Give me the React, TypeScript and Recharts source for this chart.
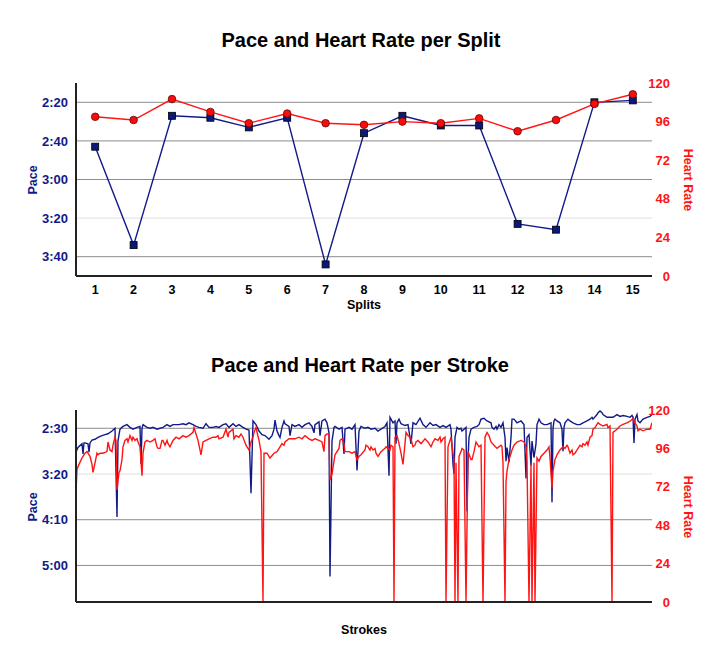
import React from 'react';
import { ComposedChart, Line, XAxis, YAxis, ReferenceLine } from 'recharts';

// per split
const splits = [1, 2, 3, 4, 5, 6, 7, 8, 9, 10, 11, 12, 13, 14, 15];
const splitPace = [163, 214, 147, 148, 153, 148, 224, 156, 147, 152, 152, 203, 206, 140, 139]; // seconds / 500m
const splitHr = [99, 97, 110, 102, 95, 101, 95, 94, 96, 95, 98, 90, 97, 107, 113];

// per stroke: [stroke, value]
const strokePace: [number, number][] = [
  [0, 176], [2, 171], [6, 167], [7, 178], [8, 166], [9, 166], [12, 167], [13, 176], [14, 166], [16, 163], [19, 162], [22, 160],
  [26, 158], [29, 157], [32, 156], [36, 153], [39, 150], [41, 247], [42, 164], [43, 157], [44, 151], [47, 148], [51, 146], [54, 149],
  [57, 151], [61, 149], [64, 148], [65, 189], [66, 150], [67, 146], [71, 149], [74, 150], [77, 149], [81, 151], [84, 150], [87, 149],
  [91, 146], [94, 148], [97, 146], [100, 146], [103, 146], [107, 145], [110, 146], [113, 144], [117, 146], [120, 148], [123, 149],
  [127, 150], [130, 145], [133, 149], [137, 149], [140, 148], [143, 149], [147, 146], [150, 145], [153, 149], [157, 145], [160, 148],
  [163, 146], [167, 149], [170, 151], [173, 152], [175, 221], [177, 142], [180, 146], [183, 153], [186, 157], [189, 158], [193, 162],
  [196, 158], [198, 151], [199, 141], [201, 153], [203, 158], [204, 160], [206, 149], [208, 142], [209, 145], [213, 148], [214, 158],
  [216, 146], [219, 148], [223, 146], [226, 149], [229, 146], [233, 144], [236, 148], [238, 155], [239, 146], [243, 143], [244, 158],
  [246, 142], [249, 140], [251, 144], [253, 155], [254, 312], [256, 164], [258, 149], [259, 148], [263, 151], [266, 149], [268, 178],
  [269, 151], [273, 149], [276, 151], [279, 146], [281, 196], [283, 153], [285, 148], [289, 150], [292, 149], [295, 151], [299, 150],
  [302, 153], [305, 151], [309, 148], [311, 144], [313, 202], [314, 138], [315, 140], [317, 144], [319, 142], [320, 167], [321, 144],
  [323, 140], [325, 145], [329, 147], [332, 146], [335, 167], [337, 144], [340, 146], [344, 139], [347, 146], [350, 149], [354, 144],
  [357, 147], [360, 146], [364, 149], [367, 147], [370, 149], [374, 146], [375, 151], [377, 189], [378, 200], [379, 160], [381, 149],
  [383, 151], [385, 150], [386, 153], [388, 151], [390, 149], [391, 241], [392, 185], [393, 160], [395, 151], [398, 149], [401, 148],
  [403, 146], [405, 140], [408, 139], [411, 142], [415, 144], [416, 149], [418, 151], [420, 148], [421, 151], [423, 146], [425, 149],
  [427, 144], [429, 160], [430, 186], [431, 171], [433, 187], [435, 160], [436, 140], [438, 140], [441, 144], [445, 142], [448, 146],
  [450, 205], [451, 160], [453, 157], [455, 191], [456, 164], [458, 182], [460, 167], [461, 146], [463, 140], [465, 144], [468, 146],
  [471, 146], [475, 144], [476, 231], [477, 150], [478, 142], [479, 140], [481, 142], [484, 144], [486, 151], [487, 175], [488, 149],
  [489, 144], [492, 140], [494, 142], [497, 144], [501, 146], [504, 146], [507, 144], [511, 142], [514, 140], [516, 138], [517, 140],
  [521, 135], [522, 133], [524, 131], [526, 133], [527, 135], [531, 138], [534, 138], [537, 138], [541, 135], [544, 137], [547, 136],
  [551, 137], [554, 138], [556, 136], [557, 138], [558, 166], [559, 140], [561, 135], [562, 142], [564, 144], [567, 140], [571, 138],
  [574, 137], [576, 135],
];

const strokeHr: [number, number][] = [
  [0, 69], [1, 83], [3, 86], [6, 90], [7, 91], [9, 93], [11, 94], [12, 93], [14, 91], [16, 86], [17, 81], [19, 87], [21, 93], [22, 92],
  [24, 93], [27, 93], [31, 94], [32, 100], [34, 95], [36, 94], [37, 98], [39, 103], [40, 101], [41, 70], [43, 81], [44, 82], [46, 89],
  [47, 97], [49, 101], [51, 102], [52, 100], [54, 104], [56, 101], [57, 103], [59, 101], [61, 102], [62, 100], [64, 97], [66, 79],
  [67, 93], [69, 100], [71, 101], [74, 100], [77, 101], [79, 102], [81, 97], [82, 96], [84, 96], [86, 101], [87, 101], [89, 98],
  [91, 101], [92, 99], [94, 97], [97, 101], [100, 103], [103, 102], [107, 104], [110, 103], [113, 104], [117, 106], [118, 109],
  [120, 105], [122, 101], [123, 98], [125, 92], [127, 100], [130, 101], [133, 102], [137, 103], [140, 103], [142, 104], [143, 102],
  [147, 103], [150, 108], [152, 103], [153, 106], [157, 108], [158, 102], [160, 104], [163, 103], [165, 105], [167, 103], [170, 98],
  [172, 96], [173, 95], [175, 100], [177, 103], [178, 106], [180, 109], [183, 101], [185, 94], [187, 0], [188, 93], [189, 93], [191, 93],
  [194, 90], [198, 93], [201, 94], [204, 97], [206, 99], [208, 98], [209, 100], [213, 102], [216, 102], [219, 102], [223, 103],
  [226, 102], [229, 104], [233, 102], [236, 101], [239, 102], [243, 101], [246, 100], [248, 94], [249, 104], [251, 105], [253, 105],
  [254, 76], [256, 80], [258, 88], [259, 92], [263, 96], [264, 101], [266, 102], [268, 99], [269, 94], [273, 94], [276, 93], [279, 94],
  [281, 89], [283, 91], [285, 92], [289, 95], [290, 98], [292, 97], [294, 95], [295, 97], [297, 95], [299, 96], [300, 93], [302, 91],
  [304, 93], [305, 94], [309, 96], [310, 97], [312, 96], [314, 95], [315, 98], [317, 97], [318, 0], [319, 103], [321, 104], [323, 99],
  [325, 93], [327, 86], [329, 99], [330, 106], [332, 104], [334, 103], [335, 102], [337, 97], [339, 98], [340, 100], [342, 101],
  [345, 99], [349, 102], [352, 100], [355, 97], [357, 100], [359, 102], [362, 101], [364, 103], [365, 100], [367, 102], [369, 103],
  [370, 0], [372, 97], [374, 101], [375, 103], [377, 93], [378, 89], [379, 0], [380, 87], [382, 0], [383, 91], [385, 94], [386, 96],
  [388, 95], [390, 0], [392, 94], [395, 89], [396, 89], [398, 94], [400, 100], [401, 99], [403, 97], [405, 98], [407, 0], [409, 103],
  [411, 106], [413, 104], [415, 100], [418, 98], [421, 96], [425, 98], [426, 97], [427, 87], [429, 0], [430, 75], [431, 82], [433, 89],
  [435, 93], [436, 95], [438, 98], [441, 100], [445, 101], [448, 100], [450, 97], [451, 88], [453, 0], [455, 86], [456, 0], [458, 87],
  [459, 0], [461, 90], [463, 88], [465, 91], [468, 93], [471, 95], [473, 97], [474, 90], [476, 71], [477, 82], [479, 89], [481, 92],
  [484, 95], [487, 97], [489, 96], [491, 98], [492, 97], [494, 93], [496, 95], [497, 92], [499, 93], [501, 95], [502, 96], [504, 98],
  [506, 97], [507, 99], [509, 98], [511, 100], [512, 98], [514, 103], [516, 104], [517, 108], [519, 109], [521, 111], [522, 112],
  [524, 111], [527, 110], [531, 111], [532, 109], [534, 110], [536, 0], [537, 106], [541, 108], [544, 110], [547, 111], [551, 112],
  [554, 113], [556, 114], [557, 115], [559, 112], [561, 110], [562, 107], [564, 108], [567, 107], [571, 108], [574, 108], [576, 112],
];

const splitPaceTicks = [140, 160, 180, 200, 220];
const strokePaceTicks = [150, 200, 250, 300];
const hrTicks = [0, 24, 48, 72, 96, 120];

const NAVY = '#111a88';
const RED = '#ff1414';
const FONT = '"Liberation Sans", Arial, Helvetica, sans-serif';

const fmtPace = (s: number) => `${Math.floor(s / 60)}:${String(s % 60).padStart(2, '0')}`;

const splitData = splits.map((s, i) => ({ split: s, pace: splitPace[i], hr: splitHr[i] }));
const paceStrokeData = strokePace.map(([stroke, pace]) => ({ stroke, pace }));
const hrStrokeData = strokeHr.map(([stroke, hr]) => ({ stroke, hr }));

const HrTick = ({ x, y, payload }: any) => (
  <text x={x + 10} y={y} dy={4.5} textAnchor="end" fill={RED} fontSize={13} fontWeight="bold" fontFamily={FONT}>
    {payload.value}
  </text>
);

const SquareDot = ({ cx, cy, index }: any) => (
  <rect key={`sq-${index}`} x={cx - 3.5} y={cy - 3.5} width={7} height={7} fill="#0b1a7a" stroke="#000" strokeWidth={0.8} />
);

const CircleDot = ({ cx, cy, index }: any) => (
  <circle key={`ci-${index}`} cx={cx} cy={cy} r={3.8} fill="#ff0a0a" stroke="#5a0a0a" strokeWidth={0.8} />
);

const Txt: React.FC<{ x: number; y: number; rot?: number; color?: string; size?: number; children: React.ReactNode }> = ({ x, y, rot = 0, color = '#000', size = 13, children }) => (
  <div style={{
    position: 'absolute', left: x, top: y, transform: `translate(-50%, -50%) rotate(${rot}deg)`,
    color, fontSize: size, fontWeight: 'bold', fontFamily: FONT, whiteSpace: 'nowrap', lineHeight: 1,
  }}>{children}</div>
);

const gridColor = (v: number, light: number) => (v === light ? '#dedede' : '#8c8c8c');

export default function App() {
  const tickStyle = { fill: NAVY, fontSize: 13, fontWeight: 'bold', fontFamily: FONT };
  return (
    <div style={{ position: 'absolute', left: 0, top: 0, width: 708, height: 648, background: '#fff' }}>
      <div style={{ position: 'absolute', left: 0, top: 0 }}>
        <ComposedChart width={708} height={320} data={splitData} margin={{ top: 83, right: 6, left: 16, bottom: 14 }}>
          <XAxis dataKey="split" scale="band" height={30} axisLine={{ stroke: '#222', strokeWidth: 2 }} tickLine={false} tickMargin={3}
            tick={{ fill: '#000', fontSize: 12.5, fontWeight: 'bold', fontFamily: FONT }} />
          <YAxis yAxisId="pace" orientation="left" width={60} reversed domain={[130, 230]} ticks={splitPaceTicks}
            tickFormatter={fmtPace} axisLine={{ stroke: '#222', strokeWidth: 2 }} tickLine={false} tick={tickStyle} />
          <YAxis yAxisId="hr" orientation="right" width={50} domain={[0, 120]} ticks={hrTicks}
            axisLine={false} tickLine={false} tick={<HrTick />} />
          {splitPaceTicks.map(v => (
            <ReferenceLine key={v} yAxisId="pace" y={v} stroke={gridColor(v, 200)} strokeWidth={1} />
          ))}
          <Line yAxisId="pace" dataKey="pace" stroke={NAVY} strokeWidth={1.4} dot={<SquareDot />} isAnimationActive={false} />
          <Line yAxisId="hr" dataKey="hr" stroke={RED} strokeWidth={1.4} dot={<CircleDot />} isAnimationActive={false} />
        </ComposedChart>
      </div>

      <div style={{ position: 'absolute', left: 0, top: 324 }}>
        <ComposedChart width={708} height={324} margin={{ top: 86, right: 6, left: 16, bottom: 36 }}>
          <XAxis type="number" dataKey="stroke" domain={[0, 576]} height={10} tick={false} tickLine={false}
            axisLine={{ stroke: '#222', strokeWidth: 2 }} allowDataOverflow />
          <YAxis yAxisId="pace" orientation="left" width={60} reversed domain={[130, 340]} ticks={strokePaceTicks}
            tickFormatter={fmtPace} axisLine={{ stroke: '#222', strokeWidth: 2 }} tickLine={false} tick={tickStyle} />
          <YAxis yAxisId="hr" orientation="right" width={50} domain={[0, 120]} ticks={hrTicks}
            axisLine={false} tickLine={false} tick={<HrTick />} />
          {strokePaceTicks.map(v => (
            <ReferenceLine key={v} yAxisId="pace" y={v} stroke={gridColor(v, 200)} strokeWidth={1} />
          ))}
          <Line yAxisId="pace" data={paceStrokeData} dataKey="pace" stroke={NAVY} strokeWidth={1.4} dot={false} isAnimationActive={false} />
          <Line yAxisId="hr" data={hrStrokeData} dataKey="hr" stroke={RED} strokeWidth={1.4} dot={false} isAnimationActive={false} />
        </ComposedChart>
      </div>

      <Txt x={361} y={40} size={20}>Pace and Heart Rate per Split</Txt>
      <Txt x={33} y={180} rot={-90} color={NAVY} size={12.5}>Pace</Txt>
      <Txt x={688} y={180} rot={90} color={RED} size={12.5}>Heart Rate</Txt>
      <Txt x={364} y={305} size={12.5}>Splits</Txt>

      <Txt x={360} y={365} size={20}>Pace and Heart Rate per Stroke</Txt>
      <Txt x={33} y={507} rot={-90} color={NAVY} size={12.5}>Pace</Txt>
      <Txt x={688} y={507} rot={90} color={RED} size={12.5}>Heart Rate</Txt>
      <Txt x={364} y={630} size={12.5}>Strokes</Txt>
    </div>
  );
}
